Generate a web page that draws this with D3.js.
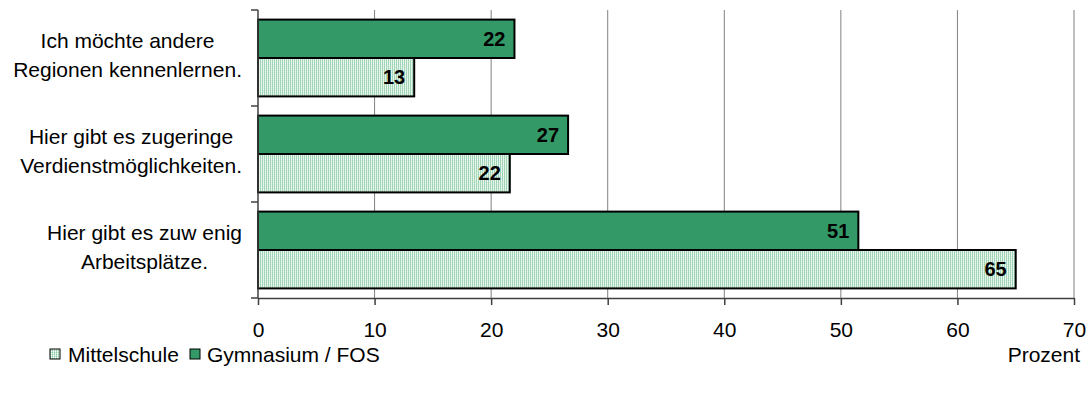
<!DOCTYPE html>
<html>
<head>
<meta charset="utf-8">
<script src="https://cdn.jsdelivr.net/npm/d3@7"></script>
<style>
  body { margin: 0; background: #fff; }
  text { font-family: "Liberation Sans", Arial, sans-serif; fill: #000; }
</style>
</head>
<body>
<div id="chart"></div>
<script>
// Chart data
const categories = [
    ["Ich möchte andere", "Regionen kennenlernen."],
    ["Hier gibt es zugeringe", "Verdienstmöglichkeiten."],
    ["Hier gibt es zuw enig", "Arbeitsplätze."]
];
const gymnasium = [22, 26.6, 51.5];
const mittelschule = [13.4, 21.6, 65];
const gymLabels = ["22", "27", "51"];
const mittelLabels = ["13", "22", "65"];
const xTicks = [0, 10, 20, 30, 40, 50, 60, 70];
const seriesNames = ["Mittelschule", "Gymnasium / FOS"];

const width = 1088, height = 396;
const plotLeft = 258, plotRight = 1074, plotTop = 10, plotBottom = 298;
const fontSize = "21px";

const svg = d3.select("#chart").append("svg")
    .attr("width", width)
    .attr("height", height);

// light green grid pattern for Mittelschule
const defs = svg.append("defs");
const pat = defs.append("pattern")
    .attr("id", "dots")
    .attr("width", 2).attr("height", 2)
    .attr("patternUnits", "userSpaceOnUse");
pat.append("rect").attr("width", 2).attr("height", 2).attr("fill", "#ffffff");
pat.append("rect").attr("width", 1).attr("height", 1).attr("fill", "#8ccca8");
pat.append("rect").attr("x", 1).attr("y", 0).attr("width", 1).attr("height", 1).attr("fill", "#cbe9d7");
pat.append("rect").attr("x", 0).attr("y", 1).attr("width", 1).attr("height", 1).attr("fill", "#b5dfc6");

const x = d3.scaleLinear().domain([0, 70]).range([plotLeft, plotRight]);
const y = d3.scaleBand().domain(d3.range(categories.length)).range([plotTop, plotBottom]).paddingInner(0.2).paddingOuter(0.1);
const ySub = d3.scaleBand().domain([0, 1]).range([0, y.bandwidth()]);

// gridlines
svg.append("g").selectAll("line")
    .data(xTicks.slice(1))
    .enter().append("line")
        .attr("x1", d => x(d)).attr("x2", d => x(d))
        .attr("y1", plotTop).attr("y2", plotBottom)
        .attr("stroke", "#808080")
        .attr("stroke-width", 1);

// bars
const groups = svg.append("g").selectAll("g")
    .data(categories.map((c, i) => i))
    .enter().append("g")
        .attr("transform", i => `translate(0, ${y(i)})`);

groups.append("rect") // Gymnasium (top)
    .attr("x", x(0))
    .attr("y", ySub(0))
    .attr("width", i => x(gymnasium[i]) - x(0))
    .attr("height", ySub.bandwidth())
    .attr("fill", "#339966")
    .attr("stroke", "#000")
    .attr("stroke-width", 2);

groups.append("rect") // Mittelschule (bottom)
    .attr("x", x(0))
    .attr("y", ySub(1))
    .attr("width", i => x(mittelschule[i]) - x(0))
    .attr("height", ySub.bandwidth())
    .attr("fill", "url(#dots)")
    .attr("stroke", "#000")
    .attr("stroke-width", 2);

groups.append("text")
    .attr("x", i => x(gymnasium[i]) - 9)
    .attr("y", ySub(0) + ySub.bandwidth() / 2)
    .attr("dy", "0.36em")
    .attr("text-anchor", "end")
    .style("font-size", "20px")
    .style("font-weight", "bold")
    .text(i => gymLabels[i]);

groups.append("text")
    .attr("x", i => x(mittelschule[i]) - 9)
    .attr("y", ySub(1) + ySub.bandwidth() / 2)
    .attr("dy", "0.36em")
    .attr("text-anchor", "end")
    .style("font-size", "20px")
    .style("font-weight", "bold")
    .text(i => mittelLabels[i]);

// category labels: block right-aligned, lines centered inside the block
groups.each(function(i) {
    const g = d3.select(this);
    const t = g.append("text")
        .attr("text-anchor", "middle")
        .style("font-size", fontSize);
    const spans = categories[i].map((line, k) => t.append("tspan")
        .attr("y", y.bandwidth() / 2 + (k === 0 ? -10 : 19))
        .text(line));
    const maxW = d3.max(spans, s => s.node().getComputedTextLength());
    spans.forEach(s => s.attr("x", 242 - maxW / 2));
});

// y axis with ticks at band borders
const yAxis = svg.append("g").attr("stroke", "#404040").attr("stroke-width", 1.5);
yAxis.append("line").attr("x1", plotLeft).attr("x2", plotLeft).attr("y1", plotTop).attr("y2", plotBottom);
const step = (plotBottom - plotTop) / categories.length;
yAxis.selectAll(".yt")
    .data(d3.range(categories.length + 1))
    .enter().append("line")
        .attr("x1", plotLeft - 7).attr("x2", plotLeft)
        .attr("y1", k => plotTop + k * step).attr("y2", k => plotTop + k * step);

// x axis
const xAxis = svg.append("g")
    .attr("transform", `translate(0, ${plotBottom})`)
    .call(d3.axisBottom(x).tickValues(xTicks).tickSize(7).tickPadding(17).tickSizeOuter(0));
xAxis.select(".domain").attr("stroke", "#404040").attr("stroke-width", 1.5);
xAxis.selectAll(".tick line").attr("stroke", "#404040").attr("stroke-width", 1.5);
xAxis.selectAll(".tick text")
    .style("font-size", fontSize)
    .style("font-family", "'Liberation Sans', Arial, sans-serif")
    .attr("fill", "#000");

// legend
const legend = svg.append("g").attr("transform", "translate(0, 354)");
legend.append("rect").attr("x", 50).attr("y", -5).attr("width", 10).attr("height", 10)
    .attr("fill", "url(#dots)").attr("stroke", "#000").attr("stroke-width", 1);
legend.append("text").attr("x", 68).attr("y", 0).attr("dy", "0.36em")
    .style("font-size", fontSize).text(seriesNames[0]);
legend.append("rect").attr("x", 190).attr("y", -5).attr("width", 10).attr("height", 10)
    .attr("fill", "#339966").attr("stroke", "#000").attr("stroke-width", 1);
legend.append("text").attr("x", 207).attr("y", 0).attr("dy", "0.36em")
    .style("font-size", fontSize).text(seriesNames[1]);

svg.append("text")
    .attr("x", 1080).attr("y", 354).attr("dy", "0.36em")
    .attr("text-anchor", "end")
    .style("font-size", fontSize)
    .text("Prozent");
</script>
</body>
</html>
